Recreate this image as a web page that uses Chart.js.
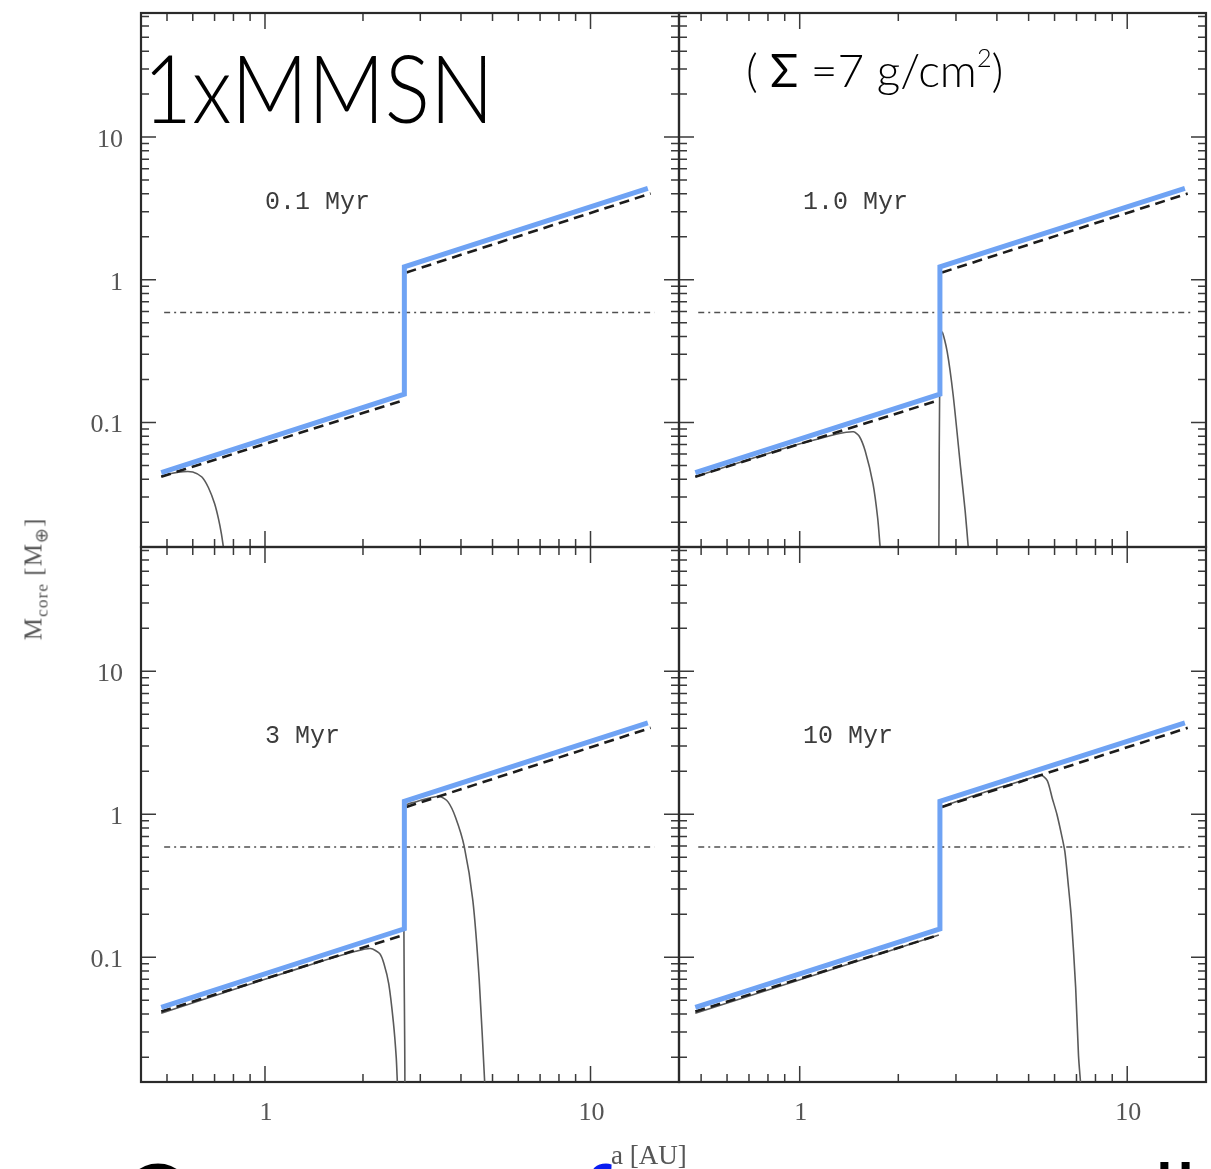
<!DOCTYPE html>
<html lang="id">
<head>
<meta charset="utf-8">
<title>Massa inti vs jarak</title>
<script src="https://cdn.jsdelivr.net/npm/chart.js@4.4.1/dist/chart.umd.min.js"></script>
<style>
  html, body { margin: 0; padding: 0; background: #fff; }
  #halaman { position: relative; width: 1211px; height: 1169px; overflow: hidden; background: #fff; }
  #halaman canvas { position: absolute; left: 0; top: 0; }
  .teks { position: absolute; white-space: nowrap; line-height: 1; }
  #judulBesar { left: 143px; top: 29px; font: 300 95px 'Lato', sans-serif; color: #000;
                transform: scaleX(0.89); transform-origin: left top; }
  #judulSigma { left: 746px; top: 42px; font: 300 46px 'Lato', sans-serif; color: #000; }
  #judulSigma b { font-weight: 400; }
  #judulSigma sup { font-size: 0.55em; vertical-align: 0.8em; }
  #judulY { left: 36px; top: 579px; transform: translate(-50%, -50%) rotate(-90deg);
            font: 25px 'Liberation Serif', serif; letter-spacing: 1px; color: #555; filter: blur(0.7px); }
  #judulY sub { font-size: 0.7em; }
  #judulX { left: 611px; top: 1140px; font: 27px 'Liberation Serif', serif; color: #555; filter: blur(0.7px); }
  .bawah { top: 1139px; font: 400 90px 'Lato', sans-serif; color: #000; }
  .biru { color: #0a1cf0; }
</style>
</head>
<body>
<div id="halaman">
  <canvas id="panel0" width="1211" height="1169"></canvas>
  <canvas id="panel1" width="1211" height="1169"></canvas>
  <canvas id="panel2" width="1211" height="1169"></canvas>
  <canvas id="panel3" width="1211" height="1169"></canvas>
  <div class="teks" id="judulBesar">1xMMSN</div>
  <div class="teks" id="judulSigma">( <b>Σ</b> =7 g/cm<sup>2</sup>)</div>
  <div class="teks" id="judulY">M<sub>core</sub> [M<sub>⊕</sub>]</div>
  <div class="teks" id="judulX">a [AU]</div>
  <div class="teks bawah" style="left:122px">Once cores are</div>
  <div class="teks bawah biru" style="left:581px">far</div>
  <div class="teks bawah" style="left:996px">small</div>
</div>
<script>
// rentang sumbu log (a dalam AU, massa dalam massa bumi)
const rentangA = [[0.416, 18.7], [0.428, 17.4]];
const rentangM = [0.0134, 74];
const labelUmur = ['0.1 Myr', '1.0 Myr', '3 Myr', '10 Myr'];

// garis biru (massa isolasi dgn lompatan di snow line)
const biruA = [0.48, 2.68, 2.68, 15.0];
const biruM = [0.0445, 0.158, 1.23, 4.36];

// garis putus2 hitam, dalam & luar snow line
const isoDalamA = [0.48, 2.66];
const isoDalamM = [0.0417, 0.143];
const isoLuarA = [2.72, 15.3];
const isoLuarM = [1.125, 4.02];

// garis titik-strip mendatar
const acuanA = [0.49, 15.7];
const acuanM = [0.59, 0.59];

// kurva massa inti tiap umur, satu panel bisa dua kurva
const kurvaA = [
  [[0.48, 0.52, 0.56, 0.60, 0.64, 0.67, 0.70, 0.72, 0.735, 0.745]],
  [[0.48, 0.7, 0.9, 1.1, 1.3, 1.46, 1.52, 1.585, 1.675, 1.73, 1.76],
   [2.66, 2.68, 2.72, 2.82, 2.94, 3.10, 3.20, 3.27]],
  [[0.48, 1.0, 1.5, 1.9, 2.11, 2.25, 2.32, 2.40, 2.48, 2.53, 2.55],
   [2.69, 2.69, 2.9, 3.2, 3.45, 3.65, 3.85, 4.09, 4.35, 4.55, 4.73]],
  [[0.48, 2.66],
   [2.69, 3.5, 4.5, 5.1, 5.44, 5.7, 5.9, 6.1, 6.3, 6.45, 6.6, 6.75, 6.96, 7.1, 7.2]]
];
const kurvaM = [
  [[0.0420, 0.0440, 0.0452, 0.0450, 0.0415, 0.0350, 0.0270, 0.0210, 0.0165, 0.0134]],
  [[0.0417, 0.055, 0.066, 0.075, 0.083, 0.086, 0.080, 0.063, 0.037, 0.0214, 0.0134],
   [0.0134, 0.30, 0.43, 0.314, 0.157, 0.048, 0.024, 0.0134]],
  [[0.0405, 0.070, 0.094, 0.110, 0.115, 0.106, 0.090, 0.065, 0.035, 0.020, 0.0134],
   [0.0134, 1.13, 1.22, 1.30, 1.33, 1.22, 0.95, 0.60, 0.25, 0.07, 0.0134]],
  [[0.0405, 0.143],
   [1.12, 1.38, 1.65, 1.80, 1.88, 1.72, 1.30, 1.0, 0.72, 0.55, 0.33, 0.19, 0.061, 0.0205, 0.0134]]
];

// letak kotak panel di halaman (kolom kiri/kanan, baris atas/bawah)
const kolomPx = [[141, 679], [679, 1206]];
const barisPx = [[13, 547], [547, 1082]];

// gabungin dua array jadi titik {x,y}
function jadiTitik(arrA, arrM) {
  return arrA.map((a, i) => ({ x: a, y: arrM[i] }));
}

// daftar tick log: 1..9 kali 10^n, yg pangkat 10 jadi tick mayor
function daftarTick(min, max) {
  const hasil = [];
  for (let e = Math.floor(Math.log10(min)); e <= Math.ceil(Math.log10(max)); e++) {
    for (let m = 1; m <= 9; m++) {
      const v = m * Math.pow(10, e);
      if (v >= min && v <= max) hasil.push({ v, mayor: m === 1, e });
    }
  }
  return hasil;
}

function teksTick(t) {
  return t.e < 0 ? t.v.toFixed(-t.e) : String(Math.round(t.v));
}

// plugin bikin bingkai, tick ke dalam, label angka & label umur
const pluginBingkai = {
  id: 'bingkaiPanel',
  beforeDatasetsDraw(chart, args, opsi) {
    const { ctx, chartArea: a, scales: { x, y } } = chart;
    ctx.save();
    ctx.filter = 'blur(0.7px)';
    ctx.strokeStyle = '#3a3a3a';
    ctx.lineWidth = 1.5;

    // tick sumbu x atas & bawah
    daftarTick(x.min, x.max).forEach(t => {
      const px = x.getPixelForValue(t.v);
      const p = t.mayor ? 16 : 8;
      ctx.beginPath();
      ctx.moveTo(px, a.bottom); ctx.lineTo(px, a.bottom - p);
      ctx.moveTo(px, a.top); ctx.lineTo(px, a.top + p);
      ctx.stroke();
    });
    // tick sumbu y kiri & kanan
    daftarTick(y.min, y.max).forEach(t => {
      const py = y.getPixelForValue(t.v);
      const p = t.mayor ? 15 : 8;
      ctx.beginPath();
      ctx.moveTo(a.left, py); ctx.lineTo(a.left + p, py);
      ctx.moveTo(a.right, py); ctx.lineTo(a.right - p, py);
      ctx.stroke();
    });

    // bingkai
    ctx.lineWidth = 2.2;
    ctx.strokeStyle = '#2a2a2a';
    ctx.strokeRect(a.left, a.top, a.right - a.left, a.bottom - a.top);

    // angka tick
    ctx.fillStyle = '#555';
    ctx.font = "26px 'Liberation Serif', serif";
    if (opsi.labelKiri) {
      ctx.textAlign = 'right';
      ctx.textBaseline = 'middle';
      daftarTick(y.min, y.max).filter(t => t.mayor).forEach(t => {
        ctx.fillText(teksTick(t), a.left - 18, y.getPixelForValue(t.v) + 3);
      });
    }
    if (opsi.labelBawah) {
      ctx.textAlign = 'center';
      ctx.textBaseline = 'middle';
      daftarTick(x.min, x.max).filter(t => t.mayor).forEach(t => {
        ctx.fillText(teksTick(t), x.getPixelForValue(t.v) + 1, a.bottom + 31);
      });
    }

    // label umur di pojok kiri atas
    ctx.fillStyle = '#3c3c3c';
    ctx.font = "25px 'Liberation Mono', monospace";
    ctx.textAlign = 'left';
    ctx.textBaseline = 'middle';
    ctx.fillText(opsi.umur, a.left + 124, a.top + 189);
    ctx.restore();
  },
  // garis hitam dibikin agak blur, garis biru tetep tajam
  beforeDatasetDraw(chart, args) {
    if (chart.data.datasets[args.index].kabur) {
      chart.ctx.save();
      chart.ctx.filter = 'blur(0.7px)';
    }
  },
  afterDatasetDraw(chart, args) {
    if (chart.data.datasets[args.index].kabur) chart.ctx.restore();
  }
};

function bikinPanel(idx) {
  const kol = idx % 2, brs = Math.floor(idx / 2);
  const [kiri, kanan] = kolomPx[kol];
  const [atas, bawah] = barisPx[brs];

  // dataset pertama digambar paling atas
  const datasets = [
    {
      data: jadiTitik(biruA, biruM),
      borderColor: '#6fa3f4', borderWidth: 5,
      borderJoinStyle: 'miter', borderCapStyle: 'butt'
    },
    {
      data: jadiTitik(isoDalamA, isoDalamM), kabur: true,
      borderColor: '#1c1c1c', borderWidth: 2.6, borderDash: [10, 6]
    },
    {
      data: jadiTitik(isoLuarA, isoLuarM), kabur: true,
      borderColor: '#1c1c1c', borderWidth: 2.6, borderDash: [10, 6]
    }
  ];
  kurvaA[idx].forEach((arrA, k) => {
    datasets.push({
      data: jadiTitik(arrA, kurvaM[idx][k]), kabur: true,
      borderColor: '#5a5a5a', borderWidth: 1.6, tension: 0.25
    });
  });
  datasets.push({
    data: jadiTitik(acuanA, acuanM), kabur: true,
    borderColor: '#505050', borderWidth: 1.4, borderDash: [6, 4, 2, 4]
  });
  datasets.forEach(d => {
    d.showLine = true;
    d.pointRadius = 0;
    d.fill = false;
    if (d.tension === undefined) d.tension = 0;
  });

  new Chart(document.getElementById('panel' + idx), {
    type: 'scatter',
    data: { datasets },
    options: {
      responsive: false,
      animation: false,
      events: [],
      layout: { padding: { left: kiri, right: 1211 - kanan, top: atas, bottom: 1169 - bawah } },
      plugins: {
        legend: { display: false },
        tooltip: { enabled: false },
        bingkaiPanel: { labelKiri: kol === 0, labelBawah: brs === 1, umur: labelUmur[idx] }
      },
      scales: {
        x: { type: 'logarithmic', min: rentangA[kol][0], max: rentangA[kol][1], display: false },
        y: { type: 'logarithmic', min: rentangM[0], max: rentangM[1], display: false }
      }
    },
    plugins: [pluginBingkai]
  });
}

document.addEventListener('DOMContentLoaded', () => {
  if (typeof Chart === 'undefined') return;
  [0, 1, 2, 3].forEach(bikinPanel);
});
</script>
</body>
</html>
